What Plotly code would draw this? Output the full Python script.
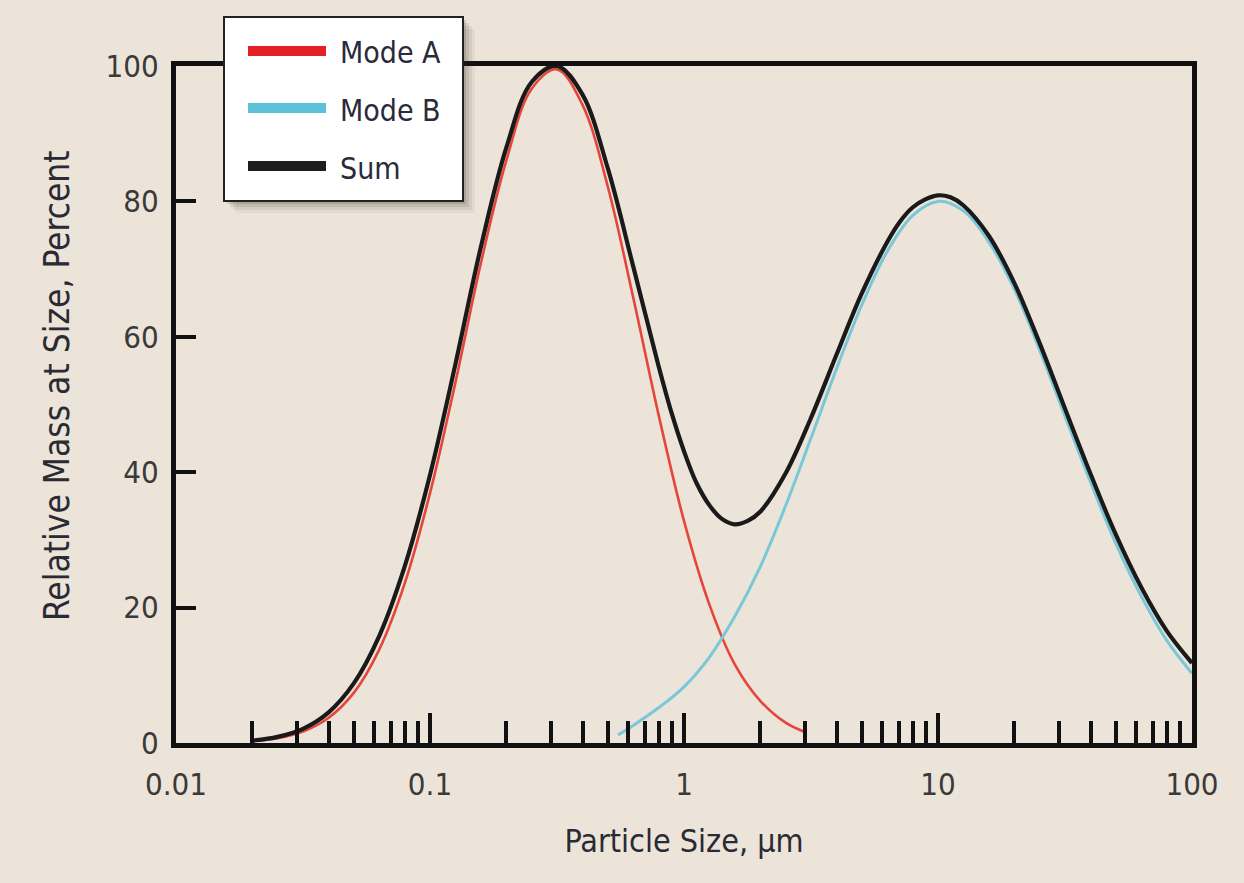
import plotly.graph_objects as go

# ---------------- data ----------------
size_a = [0.02, 0.0251, 0.0316, 0.0398, 0.0501, 0.0631, 0.0794, 0.1, 0.126, 0.158, 0.2,
          0.251, 0.316, 0.398, 0.501, 0.631, 0.794, 1.0, 1.26, 1.58, 2.0, 2.51, 3.0]
mode_a = [0.27, 0.7, 1.7, 3.7, 7.4, 13.8, 23.5, 36.9, 53.3, 70.6, 86.1,
          96.6, 99.5, 94.3, 82.2, 65.8, 48.5, 32.8, 20.4, 11.7, 6.2, 3.0, 1.6]

size_b = [0.55, 0.631, 0.794, 1.0, 1.26, 1.58, 2.0, 2.51, 3.16, 3.98, 5.01, 6.31, 7.94, 10.0,
          12.6, 15.8, 20.0, 25.1, 31.6, 39.8, 50.1, 63.1, 79.4, 100.0]
mode_b = [1.2, 2.6, 5.2, 8.3, 12.7, 18.6, 26.1, 35.0, 45.0, 55.2, 64.7, 72.6, 77.9, 80.0,
          78.6, 74.1, 67.0, 58.1, 48.3, 38.6, 29.5, 21.7, 15.2, 10.3]

size_sum = [0.02, 0.0251, 0.0316, 0.0398, 0.0501, 0.0631, 0.0794, 0.1, 0.126, 0.158, 0.2,
            0.251, 0.316, 0.398, 0.501, 0.631, 0.794, 0.891, 1.0, 1.12, 1.26, 1.41, 1.58,
            1.78, 2.0, 2.51, 3.16, 3.98, 5.01, 6.31, 7.08, 7.94, 8.91, 10.0, 11.2, 12.6,
            15.8, 20.0, 25.1, 31.6, 39.8, 50.1, 63.1, 79.4, 100.0]
total = [0.35, 0.9, 2.1, 4.5, 8.8, 15.8, 26.0, 39.6, 56.0, 73.0, 88.0,
         97.6, 100.0, 95.8, 84.9, 70.4, 55.7, 48.9, 43.1, 38.4, 35.1, 33.1, 32.3,
         32.8, 34.2, 39.8, 48.0, 57.3, 66.4, 74.0, 77.0, 79.1, 80.3, 80.9, 80.6, 79.4,
         75.0, 67.9, 59.1, 49.4, 39.8, 30.8, 23.0, 16.6, 11.8]

x_major = [0.01, 0.1, 1, 10, 100]
x_major_text = ["0.01", "0.1", "1", "10", "100"]
x_minor = [m * d for d in (0.01, 0.1, 1, 10) for m in range(2, 10)]
y_ticks = [0, 20, 40, 60, 80, 100]

legend_names = ["Mode A", "Mode B", "Sum"]
legend_colors = ["#E41F26", "#5CC1D7", "#1E1E1E"]

# ---------------- styling ----------------
FONT = "DejaVu Sans Condensed, Liberation Sans Narrow, Roboto, sans-serif"
BG = "#ECE4D8"
W, H = 1244, 883
L, R, T, B = 176, 52, 66, 140
PW, PH = W - L - R, H - T - B


def px(xp):
    return (xp - L) / PW


def py(yp):
    return (H - B - yp) / PH


fig = go.Figure()
fig.add_trace(go.Scatter(x=size_a, y=mode_a, mode="lines", name="Mode A",
                         line=dict(color="#E6453B", width=2.6, shape="spline", smoothing=1.0),
                         showlegend=False))
fig.add_trace(go.Scatter(x=size_b, y=mode_b, mode="lines", name="Mode B",
                         line=dict(color="#78C8D9", width=3, shape="spline", smoothing=1.0),
                         showlegend=False))
fig.add_trace(go.Scatter(x=size_sum, y=total, mode="lines", name="Sum",
                         line=dict(color="#1A1A1A", width=4.2, shape="spline", smoothing=1.0),
                         showlegend=False))

# ---------------- custom legend box ----------------
shapes = []
bx0, by0, bx1, by1 = 224, 17, 463, 201
for off, a in ((12, 0.05), (9, 0.08), (6, 0.11), (3, 0.14)):
    shapes.append(dict(type="rect", xref="paper", yref="paper",
                       x0=px(bx0 + off), x1=px(bx1 + off), y0=py(by0 + off), y1=py(by1 + off),
                       fillcolor=f"rgba(50,40,30,{a})", line=dict(width=0), layer="above"))
shapes.append(dict(type="rect", xref="paper", yref="paper",
                   x0=px(bx0), x1=px(bx1), y0=py(by0), y1=py(by1),
                   fillcolor="white", line=dict(color="#222222", width=2), layer="above"))
annotations = []
row_y = [51, 108, 166]
for name, col, ry in zip(legend_names, legend_colors, row_y):
    shapes.append(dict(type="line", xref="paper", yref="paper",
                       x0=px(248), x1=px(326), y0=py(ry), y1=py(ry),
                       line=dict(color=col, width=10), layer="above"))
    annotations.append(dict(xref="paper", yref="paper", x=px(338), y=py(ry + 2),
                            xanchor="left", yanchor="middle", text=name, showarrow=False,
                            font=dict(family=FONT, size=30, color="#2A2A3A")))

# y-axis title placed as in the reference (slightly above the plot's centre)
annotations.append(dict(xref="paper", yref="paper", x=px(57), y=py(386),
                        xanchor="center", yanchor="middle", textangle=-90,
                        text="Relative Mass at Size, Percent", showarrow=False,
                        font=dict(family=FONT, size=35, color="#2A2A35")))

fig.update_layout(
    width=W, height=H,
    margin=dict(l=L, r=R, t=T, b=B),
    paper_bgcolor=BG, plot_bgcolor=BG,
    showlegend=False,
    shapes=shapes, annotations=annotations,
    font=dict(family=FONT, color="#333333"),
)

fig.update_xaxes(
    type="log", range=[-2, 2],
    tickmode="array", tickvals=x_major, ticktext=x_major_text,
    ticks="inside", ticklen=30, tickwidth=3.5, tickcolor="#111111",
    minor=dict(tickmode="array", tickvals=x_minor, ticks="inside", ticklen=22,
               tickwidth=3.5, tickcolor="#111111", showgrid=False),
    showline=True, linecolor="#111111", linewidth=5, mirror=True,
    showgrid=False, zeroline=False,
    tickfont=dict(family=FONT, size=31, color="#3A3A3A"),
    ticklabelstandoff=10,
    title=dict(text="Particle Size, µm", font=dict(family=FONT, size=32, color="#2A2A35"),
               standoff=30),
)
fig.update_yaxes(
    range=[0, 100],
    tickmode="array", tickvals=y_ticks,
    ticks="inside", ticklen=20, tickwidth=3.5, tickcolor="#111111",
    showline=True, linecolor="#111111", linewidth=5, mirror=True,
    showgrid=False, zeroline=False,
    tickfont=dict(family=FONT, size=31, color="#3A3A3A"),
    ticklabelstandoff=6,
)

fig.write_html("out.html")
